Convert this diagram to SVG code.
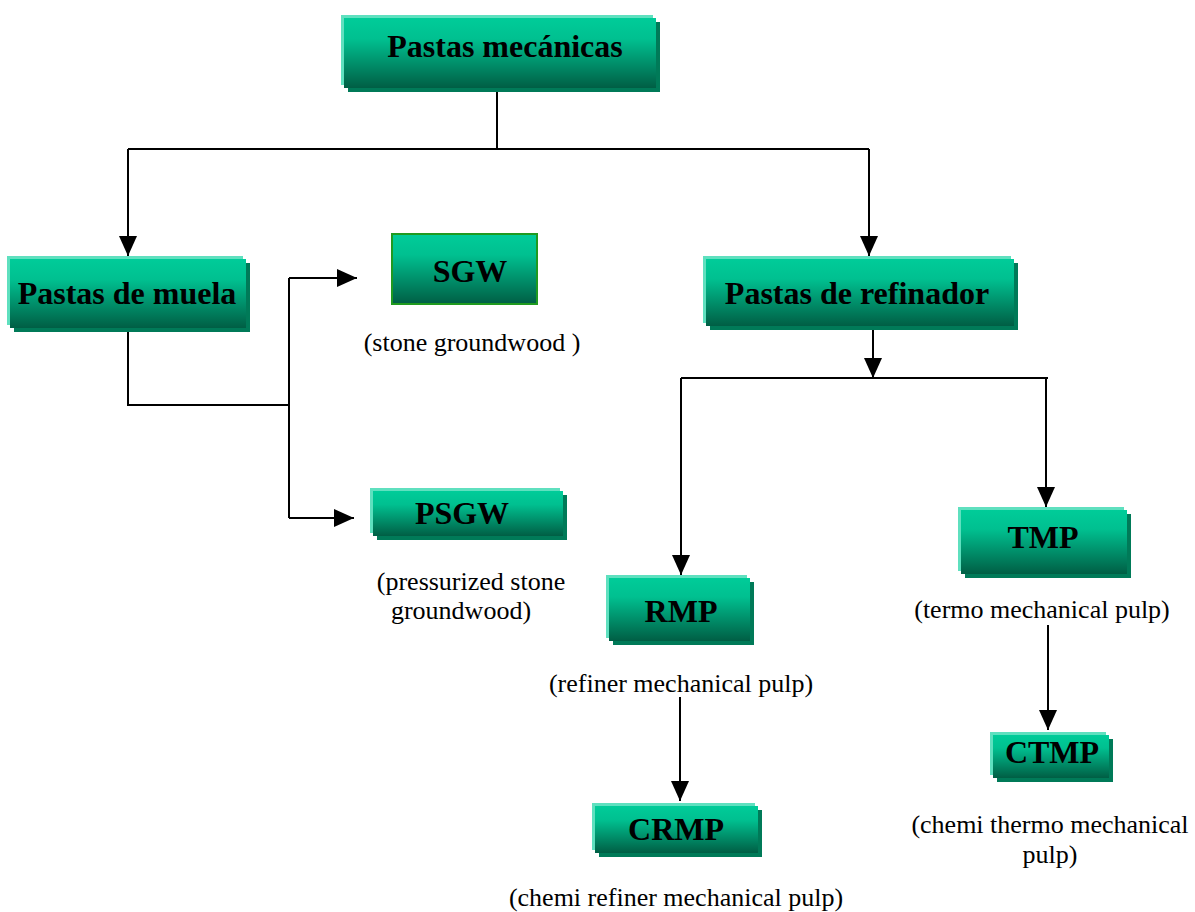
<svg xmlns="http://www.w3.org/2000/svg" width="1195" height="912" viewBox="0 0 1195 912">
<style>
.hl{fill:#5fe0bf}
.sh{fill:#007a58}
.mn{fill:url(#g)}
text{font-family:"Liberation Serif","Times New Roman",Times,"DejaVu Serif",serif;fill:#000;text-anchor:middle}
.t{font-weight:bold;font-size:32px}
.s{font-size:26px}
.c{fill:none;stroke:#000;stroke-width:2}
</style>
<defs>
<linearGradient id="g" x1="0" y1="0" x2="0" y2="1">
<stop offset="0" stop-color="#00cc99"/>
<stop offset="0.3" stop-color="#00c090"/>
<stop offset="1" stop-color="#005e44"/>
</linearGradient>
<marker id="b" viewBox="0 0 20 18" refX="20" refY="9" markerWidth="20" markerHeight="18" markerUnits="userSpaceOnUse" orient="auto">
<path d="M0,0 L20,9 L0,18 Z" fill="#000"/>
</marker>
</defs>
<g id="connectors">
<path class="c" d="M497,88 V149 M128,149 H869"/>
<path class="c" d="M128,149 V256" marker-end="url(#b)"/>
<path class="c" d="M869,149 V256" marker-end="url(#b)"/>
<path class="c" d="M128,332 V405 H289 M289,278 V518"/>
<path class="c" d="M289,278 H357" marker-end="url(#b)"/>
<path class="c" d="M289,518 H354" marker-end="url(#b)"/>
<path class="c" d="M873,330 V378" marker-end="url(#b)"/>
<path class="c" d="M681,378 H1048"/>
<path class="c" d="M681,378 V575" marker-end="url(#b)"/>
<path class="c" d="M1046,378 V507" marker-end="url(#b)"/>
<path class="c" d="M680,697 V801" marker-end="url(#b)"/>
<path class="c" d="M1048,625 V730" marker-end="url(#b)"/>
</g>
<g id="pm">
<rect class="sh" x="348" y="22" width="312" height="70"/>
<rect class="hl" x="341" y="15" width="312" height="70"/>
<rect class="mn" x="344" y="18" width="312" height="70"/>
<text class="t" x="505" y="57">Pastas mecánicas</text>
</g>
<g id="pdm">
<rect class="sh" x="14" y="263" width="236" height="69"/>
<rect class="hl" x="7" y="256" width="236" height="69"/>
<rect class="mn" x="10" y="259" width="236" height="69"/>
<text class="t" x="127" y="304">Pastas de muela</text>
</g>
<g id="sgw">
<rect x="392" y="234" width="145" height="70" fill="url(#g)" stroke="#1f9a1f" stroke-width="2"/>
<text class="t" x="470" y="282">SGW</text>
<text class="s" x="472" y="351">(stone groundwood )</text>
</g>
<g id="psgw">
<rect class="sh" x="377" y="495" width="190" height="45"/>
<rect class="hl" x="370" y="488" width="190" height="45"/>
<rect class="mn" x="373" y="491" width="190" height="45"/>
<text class="t" x="462" y="524">PSGW</text>
<text class="s" x="471" y="590">(pressurized stone</text>
<text class="s" x="461" y="619">groundwood)</text>
</g>
<g id="pdr">
<rect class="sh" x="710" y="263" width="308" height="67"/>
<rect class="hl" x="703" y="256" width="308" height="67"/>
<rect class="mn" x="706" y="259" width="308" height="67"/>
<text class="t" x="857" y="304">Pastas de refinador</text>
</g>
<g id="rmp">
<rect class="sh" x="613" y="582" width="141" height="63"/>
<rect class="hl" x="606" y="575" width="141" height="63"/>
<rect class="mn" x="609" y="578" width="141" height="63"/>
<text class="t" x="681" y="622">RMP</text>
<text class="s" x="681" y="692">(refiner mechanical pulp)</text>
</g>
<g id="crmp">
<rect class="sh" x="599" y="810" width="163" height="47"/>
<rect class="hl" x="592" y="803" width="163" height="47"/>
<rect class="mn" x="595" y="806" width="163" height="47"/>
<text class="t" x="676" y="840">CRMP</text>
<text class="s" x="676" y="906">(chemi refiner mechanical pulp)</text>
</g>
<g id="tmp">
<rect class="sh" x="965" y="514" width="166" height="64"/>
<rect class="hl" x="958" y="507" width="166" height="64"/>
<rect class="mn" x="961" y="510" width="166" height="64"/>
<text class="t" x="1043" y="548">TMP</text>
<text class="s" x="1042" y="618">(termo mechanical pulp)</text>
</g>
<g id="ctmp">
<rect class="sh" x="997" y="739" width="116" height="43"/>
<rect class="hl" x="990" y="732" width="116" height="43"/>
<rect class="mn" x="993" y="735" width="116" height="43"/>
<text class="t" x="1052" y="763">CTMP</text>
<text class="s" x="1050" y="833">(chemi thermo mechanical</text>
<text class="s" x="1050" y="863">pulp)</text>
</g>
</svg>
